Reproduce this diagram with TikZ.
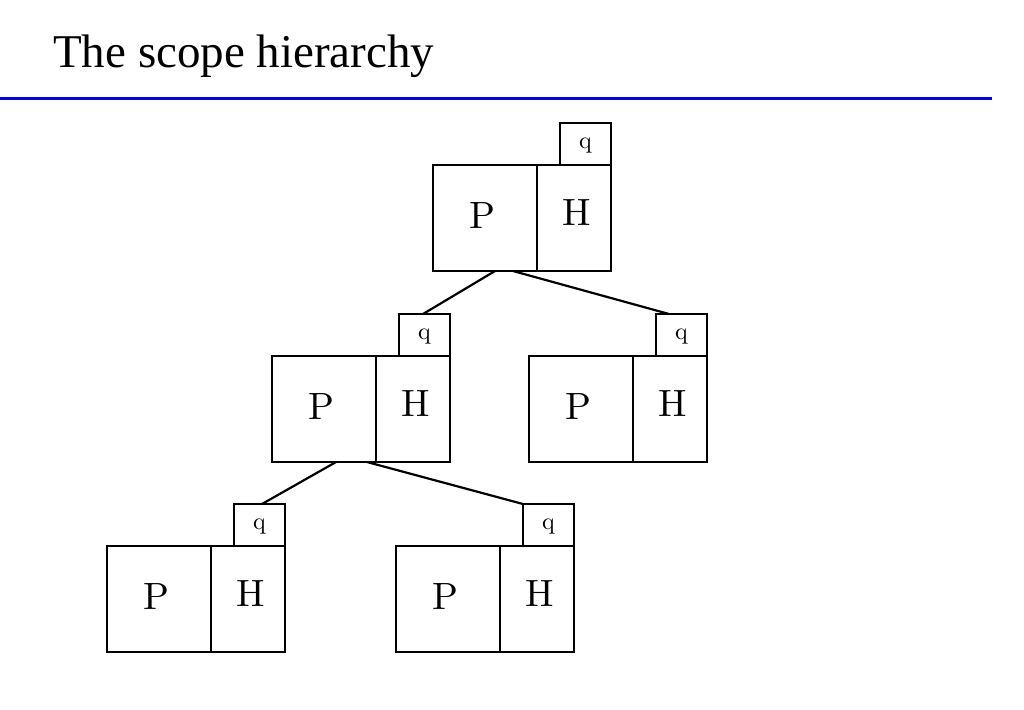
\documentclass[tikz,border=0pt]{standalone}
\usepackage{fontspec}
\newfontfamily\titlefont{Liberation Serif}
\newfontfamily\boxfont{lmroman10-regular.otf}
\usetikzlibrary{calc}
\definecolor{rulecol}{RGB}{5,5,215}
\tikzset{
  ppart/.style={draw, line width=1.5pt, inner sep=0pt, outer sep=0pt, anchor=north west,
    minimum width=104pt, text height=63pt, text depth=43pt, font=\boxfont\fontsize{38}{40}\selectfont},
  hpart/.style={draw, line width=1.5pt, inner sep=0pt, outer sep=0pt, anchor=north west,
    minimum width=74pt, text height=60pt, text depth=46pt, font=\boxfont\fontsize{38}{40}\selectfont},
  qbox/.style={draw, line width=1.9pt, inner sep=0pt, outer sep=0pt, anchor=south east,
    minimum width=51pt, text height=25pt, text depth=17pt, font=\boxfont\fontsize{24}{26}\selectfont},
  outer/.style={line width=2.6pt},
  edge/.style={line width=2.2pt},
}
\newcommand{\scopebox}[2]{%
  \node[ppart] (#1p) at (#2) {\hspace*{-6pt}P};
  \node[hpart] (#1h) at (#1p.north east) {\hspace*{6pt}H};
  \node[qbox] (#1q) at (#1h.north east) {q};
  \draw[outer] (#1p.north west) rectangle (#1h.south east);
}
\begin{document}
\begin{tikzpicture}[x=1pt,y=-1pt]
\useasboundingbox (0,0) rectangle (1024,709);
\node[anchor=base west, inner sep=0pt] (title) at (53,67)
  {\titlefont\fontsize{47}{56}\selectfont The scope hierarchy};
\coordinate (ruleL) at (0,98.5);
\coordinate (ruleR) at (992,98.5);
\draw[line width=3.8pt, rulecol] (ruleL) -- (ruleR);
\scopebox{A}{433,165}
\scopebox{B}{272,356}
\scopebox{C}{529,356}
\scopebox{D}{107,546}
\scopebox{E}{396,546}
\draw[edge] ($(Ap.south west)+(62,0)$) -- ($(Bq.north west)+(24,0)$);
\draw[edge] ($(Ap.south west)+(80,0)$) -- ($(Cq.north west)+(13,0)$);
\draw[edge] ($(Bp.south west)+(64,0)$) -- ($(Dq.north west)+(28,0)$);
\draw[edge] ($(Bp.south west)+(95,0)$) -- ($(Eq.north west)+(0,0)$);
\end{tikzpicture}
\end{document}
